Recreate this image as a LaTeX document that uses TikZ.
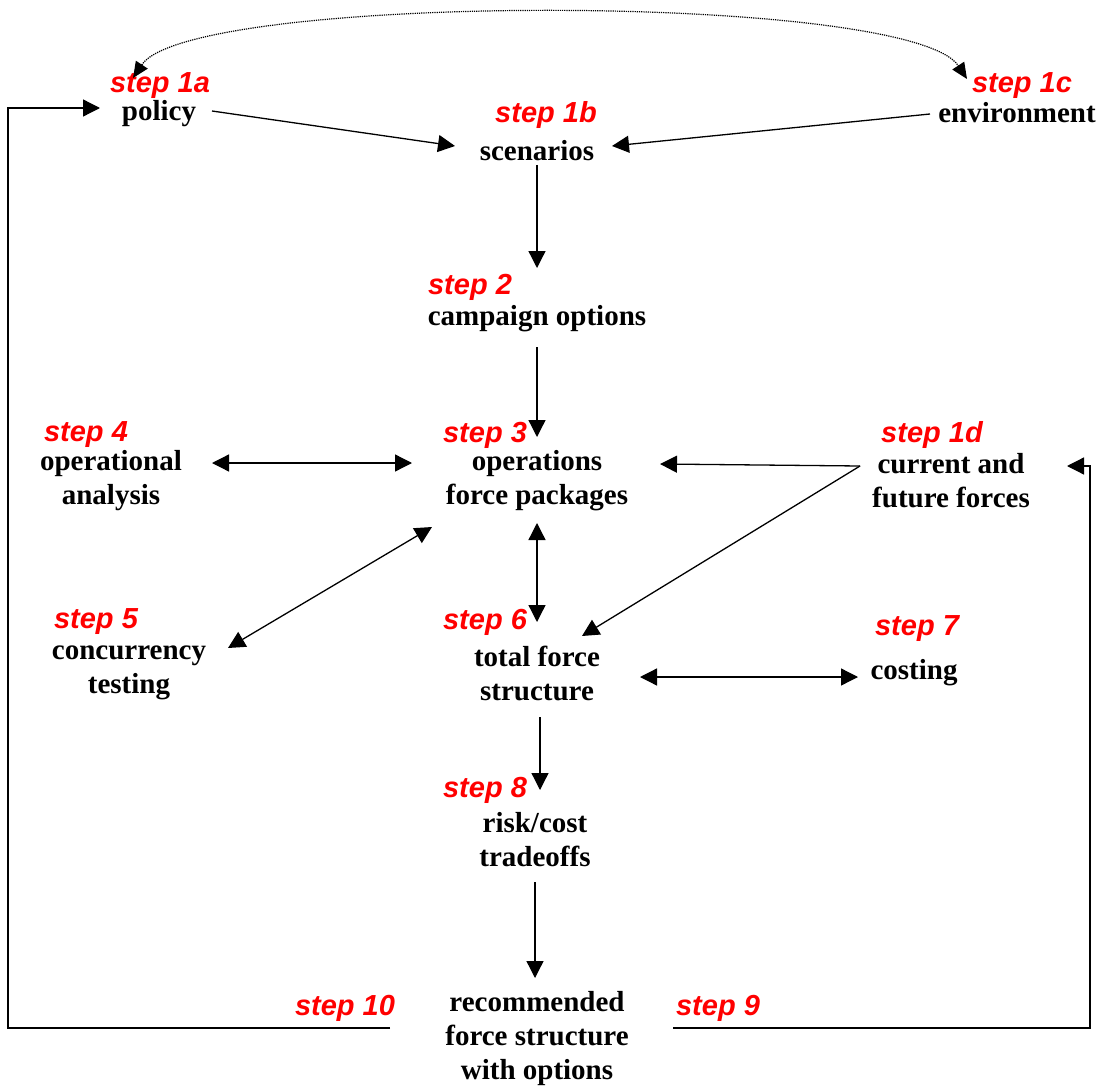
\documentclass[tikz,border=0pt]{standalone}
\usepackage{fontspec}
\setmainfont{Liberation Serif}
\newfontfamily\stepfont{Liberation Sans}
\usetikzlibrary{arrows.meta,calc}
\tikzset{
  lbl/.style={font=\fontsize{29}{34}\selectfont\bfseries, align=center, inner sep=0pt, text=black},
  stp/.style={font=\stepfont\fontsize{29}{34}\selectfont\bfseries\itshape, inner sep=0pt, text=red},
  arr/.style={line width=1.3pt, -{Triangle[length=17pt,width=17pt]}},
  barr/.style={line width=1.3pt, {Triangle[length=17pt,width=17pt]}-{Triangle[length=17pt,width=17pt]}},
  dotarc/.style={line width=1.2pt, dash pattern=on 1.2pt off 1pt, {Triangle[length=16pt,width=14pt]}-{Triangle[length=16pt,width=14pt]}}
}
\begin{document}
\begin{tikzpicture}[x=1pt,y=-1pt]
\useasboundingbox[fill=white] (0,0) rectangle (1103,1089);
% step labels
\node[stp] (s1a) at (160,86) {step 1a};
\node[stp] (s1b) at (546,115) {step 1b};
\node[stp] (s1c) at (1022,86) {step 1c};
\node[stp] (s2) at (470,287) {step 2};
\node[stp] (s4) at (86,435) {step 4};
\node[stp] (s3) at (485,435) {step 3};
\node[stp] (s1d) at (932,435) {step 1d};
\node[stp] (s5) at (96,622) {step 5};
\node[stp] (s6) at (485,622) {step 6};
\node[stp] (s7) at (917,629) {step 7};
\node[stp] (s8) at (485,790) {step 8};
\node[stp] (s10) at (345,1008) {step 10};
\node[stp] (s9) at (718,1008) {step 9};
% text nodes
\node[lbl] (policy) at (159,114) {policy};
\node[lbl] (scen) at (537,151) {scenarios};
\node[lbl] (env) at (1017,113) {environment};
\node[lbl] (camp) at (537,319) {campaign options};
\node[lbl] (opan) at (111,481) {operational\\analysis};
\node[lbl] (ops) at (537,481) {operations\\force packages};
\node[lbl] (cur) at (951,481) {current and\\future forces};
\node[lbl] (conc) at (129,673) {concurrency\\testing};
\node[lbl] (tot) at (537,673) {total force\\structure};
\node[lbl] (cost) at (914,673) {costing};
\node[lbl] (risk) at (535,840) {risk/cost\\tradeoffs};
\node[lbl] (rec) at (537,1039) {recommended\\force structure\\with options};
% connectors
\draw[arr] ($(policy.center)+(53,-3)$) -- ($(scen.center)+(-82,-5)$);
\draw[arr] ($(env.center)+(-87,1)$) -- ($(scen.center)+(75,-5)$);
\draw[arr] ($(scen.center)+(0,14)$) -- ($(camp.center)+(0,-51)$);
\draw[arr] ($(camp.center)+(0,28)$) -- ($(ops.center)+(0,-44)$);
\draw[barr] ($(opan.center)+(101,-18)$) -- ($(ops.center)+(-125,-18)$);
\draw[arr] ($(cur.center)+(-91,-15)$) -- ($(ops.center)+(123,-17)$);
\draw[arr] ($(cur.center)+(-91,-15)$) -- ($(tot.center)+(45,-37)$);
\draw[barr] ($(conc.center)+(99,-25)$) -- ($(ops.center)+(-105,46)$);
\draw[barr] ($(ops.center)+(0,42)$) -- ($(tot.center)+(0,-51)$);
\draw[barr] ($(tot.center)+(103,4)$) -- ($(cost.center)+(-56,4)$);
\draw[arr] ($(tot.center)+(3,44)$) -- ($(risk.center)+(5,-50)$);
\draw[arr] ($(risk.center)+(0,42)$) -- ($(rec.center)+(-2,-61)$);
\draw[arr] ($(s10.center)+(45,20)$) -| (8,108) -- ($(policy.center)+(-59,-6)$);
\draw[arr] ($(s9.center)+(-45,20)$) -| (1090,466) -- ($(cur.center)+(116,-15)$);
\draw[dotarc] ($(s1a.center)+(-27,-8)$) .. controls (190,-8) and (910,-8) .. ($(s1c.center)+(-55,-7)$);
\end{tikzpicture}
\end{document}
